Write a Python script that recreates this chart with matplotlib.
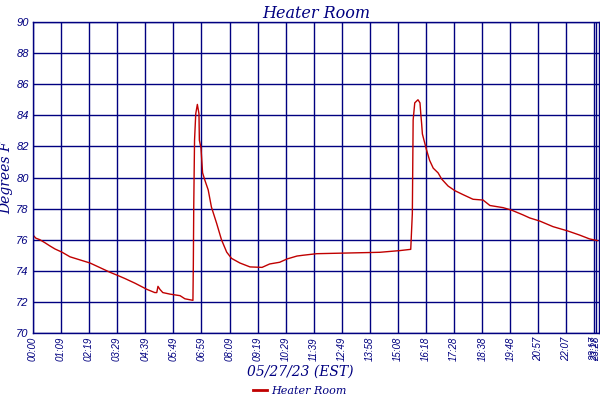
import matplotlib
matplotlib.use("Agg")
import matplotlib.pyplot as plt

# minutes since midnight and temperature
minutes = [0, 7, 17, 30, 42, 55, 72, 92, 117, 142, 167, 192, 211, 229, 254,
           284, 303, 308, 311, 316, 323, 341, 366, 378, 398, 399, 400, 402,
           405, 409, 413, 414, 418, 422, 428, 436, 444, 457, 469, 482, 494,
           515, 540, 570, 589, 614, 632, 657, 672, 706, 863, 913, 940, 944,
           946, 950, 958, 963, 965, 967, 969, 975, 979, 987, 996, 1008, 1017,
           1033, 1050, 1070, 1095, 1120, 1137, 1170, 1191, 1219, 1236, 1261,
           1294, 1331, 1360, 1385, 1405]
temps = [76.3, 76.1, 76.0, 75.8, 75.6, 75.4, 75.2, 74.9, 74.7, 74.5, 74.2,
         73.9, 73.7, 73.5, 73.2, 72.8, 72.6, 72.6, 73.0, 72.8, 72.6, 72.5,
         72.4, 72.2, 72.1, 74.4, 78.1, 82.4, 84.1, 84.7, 84.1, 82.4, 81.9,
         80.3, 79.8, 79.2, 78.1, 77.05, 76.0, 75.2, 74.8, 74.5, 74.25, 74.22,
         74.44, 74.55, 74.76, 74.95, 75.0, 75.1, 75.19, 75.3, 75.38, 77.7,
         83.7, 84.8, 85.0, 84.8, 84.1, 83.5, 82.8, 82.2, 81.8, 81.1, 80.6,
         80.3, 79.9, 79.45, 79.15, 78.9, 78.6, 78.55, 78.2, 78.06, 77.9, 77.6,
         77.4, 77.2, 76.84, 76.56, 76.3, 76.05, 75.94]

tick_minutes = [0, 69, 139, 209, 279, 349, 419, 489, 559, 629, 699, 769,
                838, 908, 978, 1048, 1118, 1188, 1257, 1327, 1397, 1401]
tick_labels = ["00:00", "01:09", "02:19", "03:29", "04:39", "05:49", "06:59",
               "08:09", "09:19", "10:29", "11:39", "12:49", "13:58", "15:08",
               "16:18", "17:28", "18:38", "19:48", "20:57", "22:07", "23:17",
               "23:28"]
y_ticks = [70, 72, 74, 76, 78, 80, 82, 84, 86, 88, 90]

navy = "#000080"
red = "#c00000"

fig = plt.figure(figsize=(6, 4), dpi=100)
ax = fig.add_axes([0.055, 0.1675, 0.943, 0.7775])

ax.plot(minutes, temps, color=red, linewidth=1.0, label="Heater Room")

ax.set_xlim(0, 1408)
ax.set_ylim(70, 90)
ax.set_xticks(tick_minutes)
ax.set_xticklabels(tick_labels, rotation=90, fontsize=7, style="italic",
                   color=navy, family="Liberation Sans")
ax.set_yticks(y_ticks)
ax.set_yticklabels([str(v) for v in y_ticks], fontsize=8, style="italic",
                   color=navy, family="Liberation Sans")
ax.tick_params(length=0, pad=3)
ax.grid(True, color=navy, linewidth=1.0)
for s in ax.spines.values():
    s.set_color(navy)
    s.set_linewidth(1.0)

ax.set_title("Heater Room", fontsize=11.5, style="italic", color=navy,
             family="DejaVu Serif", pad=3)
ax.set_ylabel("Degrees F", fontsize=10, style="italic", color=navy,
              family="DejaVu Serif", labelpad=2)
fig.text(0.5, 0.07, "05/27/23 (EST)", ha="center", va="center", fontsize=10,
         style="italic", color=navy, family="DejaVu Serif")

leg = fig.legend(loc="center", bbox_to_anchor=(0.5, 0.022), frameon=False,
                 handlelength=1.2, handletextpad=0.4,
                 prop={"style": "italic", "family": "DejaVu Serif", "size": 8})
for line in leg.get_lines():
    line.set_linewidth(2.0)
for t in leg.get_texts():
    t.set_color(navy)

fig.savefig("out.png", dpi=100)
